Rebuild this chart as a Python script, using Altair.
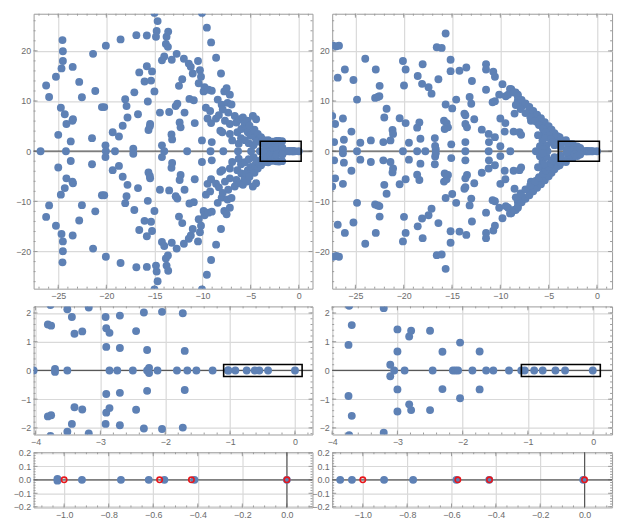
import altair as alt
import numpy as np
import pandas as pd

BLUE = "#5E81B5"
FRAME = "#9a9a9a"
LABEL = "#6b6b6b"
GRID = "#d9d9d9"
AXIS0 = "#585858"

# ---------------- left column: eigenvalues in upper half plane (conjugates mirrored) -------------
TL_x = [-26.84, -26.26, -25.95, -25.24, -25.0, -24.73, -24.66, -24.56, -24.52, -24.52, -24.32, -24.15,
        -24.2, -23.7, -23.53, -23.47, -23.5, -22.82, -22.54, -21.49, -21.38, -21.15, -20.46, -20.22,
        -20.05, -20.09, -20.05, -19.34, -19.1, -18.69, -18.52, -18.04, -17.9, -17.8, -18.3, -17.2,
        -17.09, -16.88, -16.71, -16.58, -16.03, -15.79, -15.79, -15.69, -15.62, -15.45, -15.48, -15.25,
        -15.35, -15.0, -15.0, -14.67, -14.77, -14.84, -14.43, -14.22, -14.22, -13.98, -13.81, -13.74,
        -13.57, -13.98, -13.47, -13.23, -13.16, -13.2, -13.6, -12.69, -12.79, -12.62, -12.38, -12.28,
        -12.45, -12.11, -11.94, -11.87, -11.6, -11.43, -11.36, -11.22, -11.02, -10.91, -10.81, -10.47,
        -10.4, -10.27, -10.16, -10.06, -10.06, -9.89, -9.79, -9.65, -9.55, -9.48, -9.38, -9.17,
        -9.11, -9.11, -9.04, -9.21, -9.04, -8.59, -8.42, -8.15, -8.08, -8.01, -7.95, -7.84,
        -7.74, -7.67, -7.5, -7.4, -7.33, -7.16, -7.16, -7.16, -6.99, -6.92, -6.65, -6.48,
        -6.31, -6.24, -6.38, -6.14, -5.97, -5.8, -5.63, -5.46, -5.35, -5.29, -5.12, -5.01,
        -4.95, -4.77, -4.6, -4.54, -4.43, -4.26, -4.09, -3.92, -8.6, -8.3, -7.9, -6.0,
        -5.6, -5.2, -4.7, -4.4]
TL_y = [0.0, 13.1, 10.8, 14.85, 3.26, 8.66, 16.5, 22.15, 19.93, 17.98, 7.36, 5.41,
        0.0, 1.95, 6.06, 6.38, 16.8, 13.81, 10.75, 2.6, 19.41, 11.99, 8.79, 8.79,
        21.04, 1.17, 0.0, 3.78, 0.0, 2.93, 22.28, 10.36, 8.99, 6.71, 5.08, 0.5,
        11.73, 23.13, 7.36, 15.7, 13.88, 16.94, 23.06, 9.9, 4.23, 5.41, 4.95, 15.9,
        14.07, 11.92, 27.56, 25.93, 23.97, 22.8, 7.69, 1.17, 18.11, 18.89, 21.37, 22.8,
        23.84, 0.0, 7.82, 3.32, 2.35, 18.24, 20.8, 19.41, 8.99, 9.45, 5.73, 4.75,
        13.03, 14.33, 18.44, 7.69, 0.0, 17.46, 10.42, 16.81, 15.5, 10.16, 5.6, 17.98,
        13.55, 16.16, 14.85, 2.15, 27.56, 11.92, 12.77, 8.66, 24.63, 6.51, 12.25, 0.0,
        21.69, 5.6, 1.82, 8.01, 12.05, 18.63, 10.29, 4.1, 15.5, 9.25, 3.78, 0.0,
        11.92, 6.06, 12.57, 9.64, 7.69, 11.27, 5.41, 3.45, 9.32, 2.15, 7.04, 5.73,
        0.0, 1.5, 3.78, 6.38, 4.43, 6.71, 5.41, 4.43, 6.06, 3.78, 5.08, 3.13,
        0.0, 7.04, 4.3, 2.8, 6.38, 3.45, 2.48, 2.8, 6.5, 7.2, 8.3, 2.6,
        2.2, 1.6, 1.2, 1.9]

ML_x = [-4.03, -3.51, -2.86, -2.74, -2.50, -2.28, -2.12, -1.82, -1.66, -1.52, -1.27, -0.92,
        -0.745, -0.62, -0.55, -0.415, 0.0,
        -3.70, -2.25, -1.03, -3.77, -3.51, -3.18, -3.81, -3.76, -3.44, -3.40, -3.28,
        -2.92, -2.70, -2.91, -2.86, -2.91, -2.70, -2.45, -2.33, -2.05, -1.73, -2.28, -1.70]
ML_y = [0.0, 0.0, 0.0, 0.0, 0.0, 0.0, 0.0, 0.0, 0.0, 0.0, 0.0, 0.0,
        0.0, 0.0, 0.0, 0.0, 0.0,
        0.05, 0.09, 0.006, 2.28, 2.13, 2.19, 1.6, 1.56, 1.86, 1.28, 1.36,
        1.86, 1.91, 1.47, 1.31, 0.82, 0.78, 1.37, 2.02, 2.04, 1.99, 0.71, 0.68]

# ---------------- right column --------------
TR_x = [-27.3, -26.97, -26.7, -27.4, -27.1, -27.2, -26.83, -26.09, -26.29, -26.19, -26.29, -25.41,
        -25.2, -24.83, -24.83, -24.49, -23.98, -23.4, -22.89, -22.96, -22.69, -22.52, -22.49, -22.11,
        -22.01, -21.77, -21.37, -21.16, -21.1, -20.42, -20.08, -20.08, -19.97, -19.8, -19.8, -19.46,
        -18.55, -18.61, -18.38, -18.27, -18.1, -18.04, -18.61, -17.76, -17.43, -17.12, -16.78, -16.75,
        -16.68, -16.58, -16.41, -16.07, -15.66, -15.83, -15.66, -15.56, -15.42, -15.76, -15.15, -15.15,
        -14.98, -15.08, -14.57, -14.23, -13.72, -13.62, -13.52, -13.62, -13.45, -13.62, -13.62, -13.18,
        -13.01, -12.94, -12.7, -11.92, -11.48, -11.48, -11.48, -11.21, -11.21, -11.18, -10.73, -10.56,
        -10.8, -10.56, -10.56, -10.12, -10.0, -10.0, -9.78, -9.55, -9.48, -9.44, -9.2, -8.97,
        -8.87, -8.63, -8.53, -8.42, -8.19, -8.19, -8.02, -7.85, -7.68, -6.99, -6.83, -6.39,
        -6.32, -6.15, -5.81, -5.64, -5.47, -5.3, -5.64, -5.23, -5.13, -4.96, -4.79, -4.45,
        -4.28, -4.3, -3.87,
        -9.0, -8.6, -8.2, -7.8, -7.4, -7.0, -6.6, -6.2, -5.8, -5.4, -5.0, -4.7, -4.4, -4.1,
        -8.4, -7.9, -7.4, -6.9, -6.4, -6.0, -5.6, -5.3, -5.0, -4.8, -4.6, -4.4,
        -5.9, -5.6, -5.5, -6.1]
TR_y = [21.04, 20.9, 21.04, 7.04, 5.41, 1.82, 14.66, 16.29, 6.51, 2.28, 0.4, 3.91,
        14.2, 10.29, 0.0, 1.69, 18.44, 2.15, 16.29, 10.62, 10.81, 10.94, 13.03, 1.82,
        6.71, 8.47, 2.15, 4.23, 3.45, 6.58, 0.0, 17.98, 13.09, 16.29, 5.6, 1.69,
        14.98, 4.69, 5.73, 2.48, 13.42, 17.33, 0.0, 0.0, 12.77, 11.47, 2.61, 1.04,
        0.4, 20.72, 14.33, 20.59, 23.45, 6.06, 9.32, 5.6, 4.75, 4.43, 18.24, 15.96,
        8.53, 1.37, 10.29, 16.03, 7.49, 7.17, 16.68, 5.41, 4.75, 0.0, 1.82, 10.81,
        9.45, 14.0, 6.38, 4.3, 17.33, 12.25, 16.29, 3.45, 0.0, 1.82, 15.83, 14.85,
        9.77, 9.97, 2.8, 11.27, 0.98, 6.51, 13.36, 3.91, 5.6, 10.94, 11.27, 0.0,
        12.38, 3.91, 7.49, 11.73, 10.1, 11.27, 3.78, 3.26, 9.12, 8.01, 6.06, 6.9,
        0.0, 5.73, 6.06, 5.08, 3.78, 3.13, 2.15, 1.17, 0.0, 4.43, 2.8, 3.45,
        2.48, 1.5, 2.8,
        12.4, 11.7, 11.0, 10.2, 9.5, 8.8, 8.0, 7.3, 6.6, 5.8, 5.0, 4.3, 3.6, 3.0,
        9.2, 8.4, 7.6, 6.8, 6.0, 5.2, 4.5, 3.8, 3.1, 2.4, 1.8, 1.2,
        1.0, 0.4, 2.6, 3.2]

MR_x = [-3.05, -2.89, -2.46, -2.15, -2.11, -2.07, -1.85, -1.64, -1.53, -1.29, -1.102, -1.049,
        -0.904, -0.773, -0.578, -0.43, -0.006,
        -3.74, -3.21, -3.70, -3.75, -3.00, -2.79, -2.82, -2.50, -3.00, -2.31, -2.04, -1.74, -3.11]
MR_y = [0.0, 0.0, 0.0, 0.0, 0.0, 0.0, 0.0, 0.0, 0.0, 0.0, 0.0, 0.0,
        0.0, 0.0, 0.0, 0.0, 0.0,
        2.25, 2.17, 1.58, 0.89, 1.43, 1.38, 1.18, 1.38, 0.66, 0.65, 0.97, 0.66, 0.2]

# reference values (red open circles)
RED_x = [-1.0, -0.5714, -0.4286, 0.0]
RED_y = [0.0, 0.0, 0.0, 0.0]


def with_conjugates(xs, ys):
    rows = []
    for a, b in zip(xs, ys):
        rows.append((a, b))
        if b != 0:
            rows.append((a, -b))
    return pd.DataFrame(rows, columns=["x", "y"])


left_pts = with_conjugates(TL_x + ML_x, TL_y + ML_y)
right_pts = with_conjugates(TR_x + MR_x, TR_y + MR_y)
red_pts = pd.DataFrame({"x": RED_x, "y": RED_y})


def rng(a, b, s):
    return [round(v, 6) for v in np.arange(a, b + s / 2, s)]


def panel(pts, xdom, ydom, w, h, xmaj, xmin, ymaj, ymin, xfmt, yfmt, rect=None, red=None,
          vaxis=False):
    xs = alt.Scale(domain=xdom, nice=False, zero=False)
    ys = alt.Scale(domain=ydom, nice=False, zero=False)
    common = dict(title=None, ticks=False, domain=False, grid=True, gridColor=GRID,
                  gridWidth=1.2, labelPadding=3, labelFlush=False)
    X = alt.X("x:Q", scale=xs, axis=alt.Axis(values=xmaj, format=xfmt, **common))
    Y = alt.Y("y:Q", scale=ys, axis=alt.Axis(values=ymaj, format=yfmt, **common))
    layers = []
    for vals, ln in ((xmaj, 4), (xmin, 2)):
        d = pd.DataFrame({"x": [v for v in vals if xdom[0] <= v <= xdom[1]]})
        layers.append(alt.Chart(d).mark_rule(color=FRAME, strokeWidth=1).encode(
            x=X, y=alt.value(h), y2=alt.value(h - ln)))
        layers.append(alt.Chart(d).mark_rule(color=FRAME, strokeWidth=1).encode(
            x=X, y=alt.value(0), y2=alt.value(ln)))
    for vals, ln in ((ymaj, 4), (ymin, 2)):
        d = pd.DataFrame({"y": [v for v in vals if ydom[0] <= v <= ydom[1]]})
        layers.append(alt.Chart(d).mark_rule(color=FRAME, strokeWidth=1).encode(
            y=Y, x=alt.value(0), x2=alt.value(ln)))
        layers.append(alt.Chart(d).mark_rule(color=FRAME, strokeWidth=1).encode(
            y=Y, x=alt.value(w - ln), x2=alt.value(w)))
    layers.append(alt.Chart(pd.DataFrame({"y": [0.0]})).mark_rule(
        color=AXIS0, strokeWidth=1.2).encode(y=Y))
    if vaxis:
        layers.append(alt.Chart(pd.DataFrame({"x": [0.0]})).mark_rule(
            color=AXIS0, strokeWidth=1.2).encode(x=X))
    layers.append(alt.Chart(pts).mark_circle(size=64, color=BLUE, opacity=1, clip=True).encode(x=X, y=Y))
    if red is not None:
        layers.append(alt.Chart(red).mark_point(shape="circle", filled=False, color="#e8161b",
                                                size=30, strokeWidth=1.6, opacity=1, clip=True
                                                ).encode(x=X, y=Y))
    if rect is not None:
        rd = pd.DataFrame({"x": [rect[0]], "x2": [rect[1]], "y": [rect[2]], "y2": [rect[3]]})
        layers.append(alt.Chart(rd).mark_rect(fillOpacity=0, stroke="black", strokeWidth=1.6).encode(
            x=X, x2="x2:Q", y=Y, y2="y2:Q"))
    return alt.layer(*layers).properties(width=w, height=h)


WL, WR = 283, 284
tl = panel(left_pts, [-27.56, 1.43], [-27.4, 27.4], WL, 279,
           [-25, -20, -15, -10, -5, 0], rng(-27, 1, 1), [-20, -10, 0, 10, 20], rng(-26, 26, 2),
           "d", "d", rect=[-4.0, 0.25, -2.0, 2.0])
tr = panel(right_pts, [-27.4, 1.56], [-27.4, 27.4], WR, 279,
           [-25, -20, -15, -10, -5, 0], rng(-27, 1, 1), [-20, -10, 0, 10, 20], rng(-26, 26, 2),
           "d", "d", rect=[-4.0, 0.25, -2.0, 2.0])
ml = panel(left_pts, [-4.03, 0.27], [-2.23, 2.23], WL, 130,
           [-4, -3, -2, -1, 0], rng(-4, 0.2, 0.2), [-2, -1, 0, 1, 2], rng(-2.2, 2.2, 0.2),
           "d", "d", rect=[-1.1, 0.11, -0.21, 0.21])
mr = panel(right_pts, [-4.0, 0.29], [-2.23, 2.23], WR, 130,
           [-4, -3, -2, -1, 0], rng(-4, 0.2, 0.2), [-2, -1, 0, 1, 2], rng(-2.2, 2.2, 0.2),
           "d", "d", rect=[-1.1, 0.11, -0.21, 0.21])
bl = panel(left_pts, [-1.137, 0.115], [-0.205, 0.205], WL, 56,
           [-1.0, -0.8, -0.6, -0.4, -0.2, 0.0], rng(-1.1, 0.1, 0.05),
           [-0.2, -0.1, 0.0, 0.1, 0.2], rng(-0.2, 0.2, 0.02), ".1f", ".1f", red=red_pts,
           vaxis=True)
br = panel(right_pts, [-1.138, 0.124], [-0.205, 0.205], WR, 56,
           [-1.0, -0.8, -0.6, -0.4, -0.2, 0.0], rng(-1.1, 0.1, 0.05),
           [-0.2, -0.1, 0.0, 0.1, 0.2], rng(-0.2, 0.2, 0.02), ".1f", ".1f", red=red_pts,
           vaxis=True)

chart = alt.concat(tl, tr, ml, mr, bl, br, columns=2,
                   spacing={"row": 18, "column": 20}, bounds="flush").properties(
    padding={"left": 4, "top": 1, "right": 2, "bottom": 0}
).configure_view(stroke=FRAME, strokeWidth=1).configure_axis(
    labelFont="Liberation Sans", labelFontSize=9, labelColor=LABEL
)

chart.save("out.html", embed_options={"renderer": "svg", "actions": False})
